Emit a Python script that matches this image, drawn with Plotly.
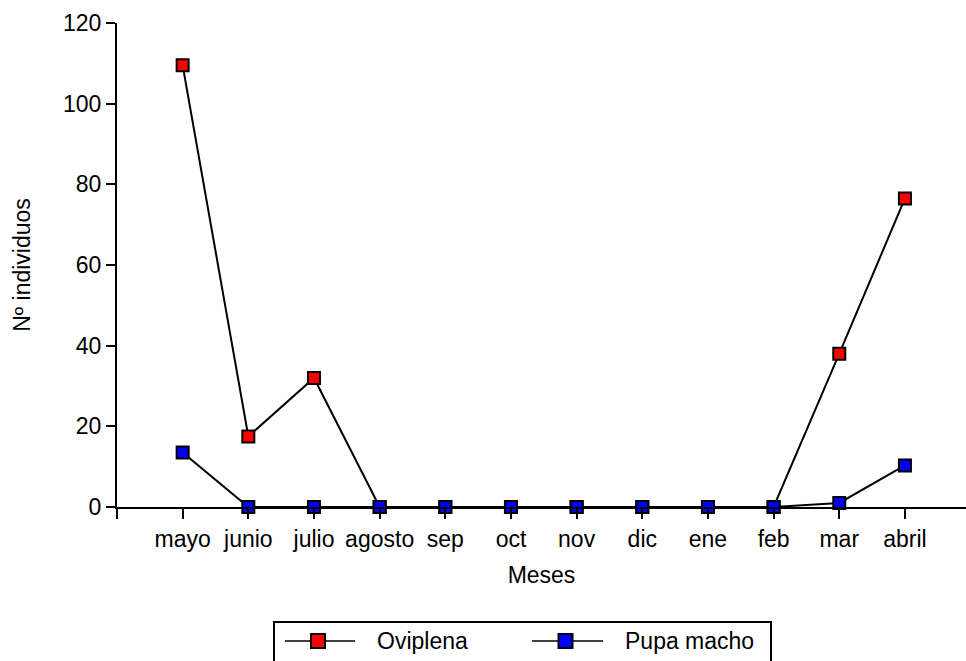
import plotly.graph_objects as go

# Monthly counts
meses = ["mayo", "junio", "julio", "agosto", "sep", "oct", "nov", "dic",
         "ene", "feb", "mar", "abril"]
oviplena = [109.5, 17.5, 32, 0, 0, 0, 0, 0, 0, 0, 38, 76.5]
pupa_macho = [13.5, 0, 0, 0, 0, 0, 0, 0, 0, 0, 1, 10.3]

W, H = 966, 661
L, R, T, B = 117, 0, 23, 154
FONT = "Liberation Sans, Arial, sans-serif"
FS = 23

x_idx = list(range(len(meses)))

fig = go.Figure()
for name, vals, color in [("Oviplena", oviplena, "#ff0000"),
                          ("Pupa macho", pupa_macho, "#0000ff")]:
    fig.add_trace(go.Scatter(
        x=x_idx, y=vals, name=name, mode="lines+markers",
        line=dict(color="black", width=2),
        marker=dict(symbol="square", size=12, color=color,
                    line=dict(color="black", width=2)),
        cliponaxis=False, showlegend=False,
    ))

# Pixel -> paper helpers for the hand-drawn legend box
pw, ph = W - L - R, H - T - B
def px(x):
    return (x - L) / pw
def py(y):
    return (H - B - y) / ph

shapes = [dict(type="rect", xref="paper", yref="paper",
               x0=px(274), x1=px(771), y0=py(680), y1=py(622),
               line=dict(color="black", width=2), fillcolor="white")]
annotations = []
# name, colour, line start, line end, marker centre, text start
legend_items = [("Oviplena", "#ff0000", 285, 355, 318, 375),
                ("Pupa macho", "#0000ff", 532, 603, 565.5, 623)]
ly = 641
for name, color, x0, x1, xc, tx in legend_items:
    shapes.append(dict(type="line", xref="paper", yref="paper",
                       x0=px(x0), x1=px(x1), y0=py(ly), y1=py(ly),
                       line=dict(color="black", width=1.5)))
    shapes.append(dict(type="rect", xref="paper", yref="paper",
                       x0=px(xc - 7), x1=px(xc + 7),
                       y0=py(ly + 7), y1=py(ly - 7),
                       line=dict(color="black", width=2), fillcolor=color))
    annotations.append(dict(text=name, xref="paper", yref="paper",
                            x=px(tx), y=py(ly), xanchor="left", yanchor="middle",
                            showarrow=False, font=dict(size=FS, color="black",
                                                       family=FONT)))

fig.update_layout(
    width=W, height=H,
    margin=dict(l=L, r=R, t=T, b=B, pad=0),
    paper_bgcolor="white", plot_bgcolor="white",
    font=dict(family=FONT, size=FS, color="black"),
    shapes=shapes, annotations=annotations,
    xaxis=dict(
        range=[-1, 11.93],
        tickvals=[-1] + x_idx, ticktext=[""] + meses,
        tickfont=dict(size=FS),
        ticks="outside", ticklen=10, tickwidth=2, tickcolor="black",
        showline=True, linecolor="black", linewidth=2,
        showgrid=False, zeroline=False,
        title=dict(text="Meses", standoff=16, font=dict(size=FS)),
    ),
    yaxis=dict(
        range=[0, 120], tickvals=[0, 20, 40, 60, 80, 100, 120],
        tickfont=dict(size=FS),
        ticks="outside", ticklen=9, tickwidth=2, tickcolor="black",
        showline=True, linecolor="black", linewidth=2,
        showgrid=False, zeroline=False,
        title=dict(text="Nº individuos", standoff=26, font=dict(size=FS)),
    ),
)

fig.write_html("out.html")
